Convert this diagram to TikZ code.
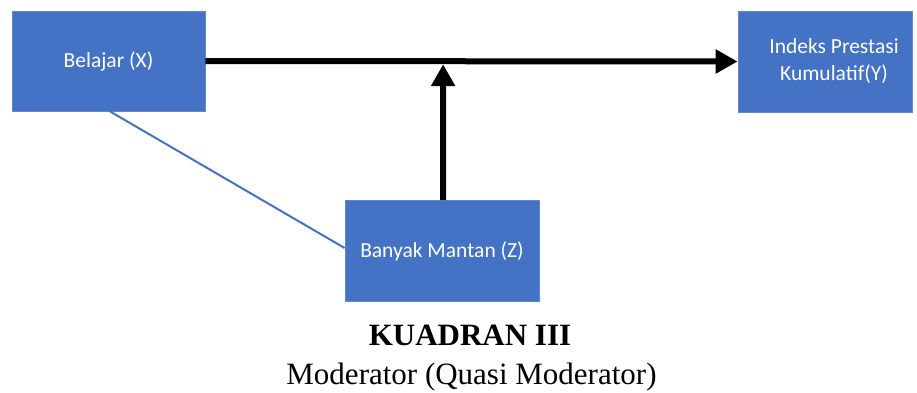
\documentclass[tikz,border=0pt]{standalone}
\usepackage{fontspec}
\setmainfont{Liberation Serif}
\newfontfamily\boxfont{Carlito}
\usetikzlibrary{arrows.meta,calc}
\definecolor{officeblue}{HTML}{4472C4}
\tikzset{
  varbox/.style={rectangle, fill=officeblue, draw=officeblue!85!white, line width=0.8pt,
    inner sep=0pt},
  boxtext/.style={font=\boxfont\fontsize{21.5}{27}\selectfont, text=white, align=center},
  mainarrow/.style={line width=6pt, -{Triangle[length=22pt,width=23pt]}},
  weakline/.style={draw=officeblue, line width=2pt},
  captionbold/.style={font=\fontsize{31}{36}\selectfont\bfseries, anchor=base},
  captionplain/.style={font=\fontsize{31}{36}\selectfont, anchor=base}
}
\begin{document}
\begin{tikzpicture}[x=1pt,y=-1pt]
  \useasboundingbox (0,0) rectangle (917,392);

  % variable boxes
  \node[varbox, minimum width=193pt, minimum height=100pt] (x) at (108.5,61) {};
  \node[boxtext] (xt) at (x.center) {Belajar (X)};
  \node[varbox, minimum width=174pt, minimum height=101pt] (y) at (825,61.5) {};
  \node[boxtext] (yt) at ([xshift=9pt]y.center) {Indeks Prestasi\\Kumulatif(Y)};
  \node[varbox, minimum width=194pt, minimum height=101pt] (z) at (442,251) {};
  \node[boxtext] (zt) at (z.center) {Banyak Mantan (Z)};

  % direct effect X -> Y
  \draw[mainarrow] (x.east) -- (y.west);

  % moderator Z acting on the X -> Y path
  \coordinate (j) at ($(x.east)!([xshift=1pt]z.north)!(y.west)$);
  \draw[mainarrow] ([xshift=1pt]z.north) -- ([yshift=-3pt]j);

  % Z also related to X
  \draw[weakline] ([xshift=1.5pt]x.south) -- ([yshift=3pt]z.west);

  % caption
  \node[captionbold] (cap1) at (470,345) {KUADRAN III};
  \node[captionplain] (cap2) at (471.5,384) {Moderator (Quasi Moderator)};
\end{tikzpicture}
\end{document}
